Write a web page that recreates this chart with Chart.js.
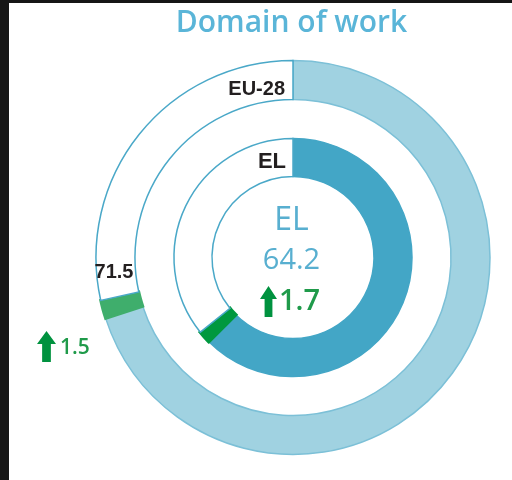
<!DOCTYPE html>
<html><head><meta charset="utf-8">
<script src="https://cdn.jsdelivr.net/npm/chart.js@4/dist/chart.umd.min.js"></script>
<style>
html,body{margin:0;padding:0;background:#161616;width:512px;height:480px;overflow:hidden}
#panel{position:absolute;left:9px;top:3px;width:503px;height:477px;background:#fff}
#c{position:absolute;left:0;top:0}
</style></head>
<body>
<div id="panel"></div>
<canvas id="c" width="512" height="480"></canvas>
<script>
const title = 'Domain of work';
const rings = ['EU-28', 'EL'];
const scores = [71.5, 64.2];
const changes = [1.5, 1.7];
const fillColors = ['#a0d2e1', '#43a6c6'];
const greenColors = ['#3fae6c', '#00983f'];

function ringData(i){ return [scores[i]-changes[i], changes[i], 100-scores[i]]; }

const outline = '#4aa8c8';
const datasets = [
  {label: rings[0], data: ringData(0), weight: 39,
   backgroundColor: [fillColors[0], greenColors[0], '#ffffff'],
   borderColor: ['#7cc0d7', greenColors[0], outline], borderWidth: [1.5, 3, 1.5],
   borderJoinStyle: 'miter'},
  {label: 'gap', data: [100], weight: 39, backgroundColor: 'rgba(0,0,0,0)', borderWidth: 0},
  {label: rings[1], data: ringData(1), weight: 38,
   backgroundColor: [fillColors[1], greenColors[1], '#ffffff'],
   borderColor: [fillColors[1], greenColors[1], outline], borderWidth: [1.5, 3.5, 1.5],
   borderJoinStyle: 'miter'}
];

function arrow(ctx, x, top, w, h, color){
  const head = h*0.42, shaft = w*0.46;
  const cx = x + w/2;
  ctx.save(); ctx.fillStyle = color; ctx.beginPath();
  ctx.moveTo(cx, top);
  ctx.lineTo(x + w, top + head);
  ctx.lineTo(cx + shaft/2, top + head);
  ctx.lineTo(cx + shaft/2, top + h);
  ctx.lineTo(cx - shaft/2, top + h);
  ctx.lineTo(cx - shaft/2, top + head);
  ctx.lineTo(x, top + head);
  ctx.closePath(); ctx.fill(); ctx.restore();
}

const labelsPlugin = {
  id: 'labels',
  afterDraw(chart){
    const ctx = chart.ctx;
    ctx.save();
    ctx.textBaseline = 'alphabetic';
    // title
    ctx.fillStyle = '#5ab5d8';
    ctx.font = '600 30px "Open Sans"';
    ctx.textAlign = 'center';
    ctx.fillText(title, 291.5, 32);
    // ring name labels
    ctx.fillStyle = '#231f20';
    ctx.font = 'bold 20px "Liberation Sans"';
    ctx.textAlign = 'right';
    ctx.fillText(rings[0], 285, 95);
    ctx.font = 'bold 22px "Liberation Sans"';
    ctx.fillText(rings[1], 286, 168);
    // EU score
    ctx.textAlign = 'center';
    ctx.font = 'bold 20px "Liberation Sans"';
    ctx.fillText(scores[0].toFixed(1), 114, 278);
    // centre
    ctx.fillStyle = '#58afd0';
    ctx.font = '32px "Open Sans"';
    ctx.fillText(rings[1], 291.5, 230);
    ctx.font = '29px "Open Sans"';
    ctx.fillText(scores[1].toFixed(1), 291.5, 269);
    // changes
    ctx.fillStyle = '#1f9a4a';
    ctx.textAlign = 'left';
    ctx.font = '600 29px "Open Sans"';
    ctx.fillText(changes[1].toFixed(1), 279, 310);
    arrow(ctx, 260, 286, 17, 31, '#00923f');
    ctx.font = '600 21px "Open Sans"';
    ctx.fillText(changes[0].toFixed(1), 60, 354);
    arrow(ctx, 37, 331, 19, 31, '#00923f');
    ctx.restore();
  }
};

new Chart(document.getElementById('c'), {
  type: 'doughnut',
  data: {labels: ['score', 'change', 'rest'], datasets},
  options: {
    responsive: false,
    animation: false,
    radius: 197,
    cutout: (81/197*100) + '%',
    layout: {padding: {left: 74, top: 35, right: 0, bottom: 0}},
    plugins: {legend: {display: false}, tooltip: {enabled: false}, title: {display: false}}
  },
  plugins: [labelsPlugin]
});
</script>
</body></html>
